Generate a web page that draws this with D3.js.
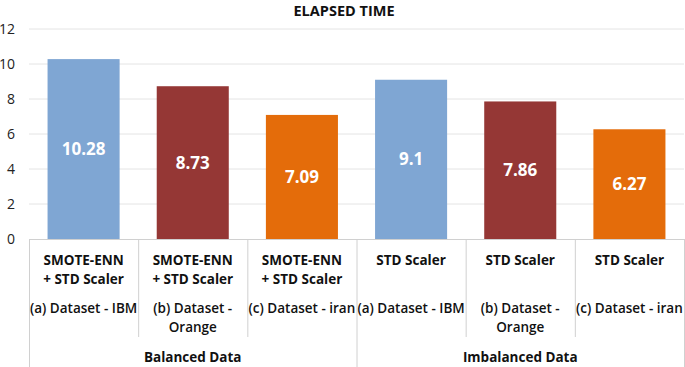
<!DOCTYPE html>
<html>
<head>
<meta charset="utf-8">
<script src="https://cdn.jsdelivr.net/npm/d3@7"></script>
<style>
  body { margin: 0; background: #fff; }
  text { font-family: "Open Sans", sans-serif; }
</style>
</head>
<body>
<div id="chart"></div>
<script>
const width = 685;
const height = 367;

// data
const methods = ["SMOTE-ENN|+ STD Scaler", "SMOTE-ENN|+ STD Scaler", "SMOTE-ENN|+ STD Scaler",
                 "STD Scaler", "STD Scaler", "STD Scaler"];
const datasets = ["(a) Dataset - IBM", "(b) Dataset -|Orange", "(c) Dataset - iran",
                  "(a) Dataset - IBM", "(b) Dataset -|Orange", "(c) Dataset - iran"];
const groups = ["Balanced Data", "Imbalanced Data"];
const values = [10.28, 8.73, 7.09, 9.1, 7.86, 6.27];
const barColors = ["#7fa6d3", "#953735", "#e46c0a", "#7fa6d3", "#953735", "#e46c0a"];
const yTicks = [0, 2, 4, 6, 8, 10, 12];

const plotLeft = 29, plotRight = 684, plotTop = 29, base = 239;
const ids = d3.range(values.length);

const x = d3.scaleBand()
    .domain(ids)
    .range([plotLeft, plotRight])
    .paddingInner(0.34)
    .paddingOuter(0.17);

// category slots without padding, for the separators and labels
const slot = d3.scaleBand().domain(ids).range([plotLeft, plotRight]);

const y = d3.scaleLinear().domain([0, 12]).range([base, plotTop]);

const svg = d3.select('#chart')
    .append('svg')
    .attr('width', width)
    .attr('height', height);

// title
svg.append('text')
    .attr('x', 344)
    .attr('y', 15.5)
    .attr('text-anchor', 'middle')
    .style('font-size', '14.5px')
    .style('font-weight', 'bold')
    .attr('fill', '#111')
    .text('ELAPSED TIME');

// gridlines
svg.append('g')
    .selectAll('line')
    .data(yTicks.filter(d => d > 0))
    .enter()
    .append('line')
    .attr('x1', plotLeft)
    .attr('x2', plotRight)
    .attr('y1', d => y(d))
    .attr('y2', d => y(d))
    .attr('stroke', '#e4e4e4')
    .attr('stroke-width', 1);

// y axis labels
const yAxis = d3.axisLeft(y).tickValues(yTicks).tickSize(0).tickPadding(14);
svg.append('g')
    .attr('transform', `translate(${plotLeft}, 0)`)
    .call(yAxis)
    .call(g => g.select('.domain').remove())
    .call(g => g.selectAll('text')
        .style('font-size', '14px')
        .attr('fill', '#222')
        .style('font-family', '"Open Sans", sans-serif'));

// bars
svg.selectAll('rect.bar')
    .data(ids)
    .enter()
    .append('rect')
    .attr('class', 'bar')
    .attr('x', i => x(i))
    .attr('y', i => y(values[i]))
    .attr('width', x.bandwidth())
    .attr('height', i => base - y(values[i]))
    .attr('fill', i => barColors[i]);

// value labels
svg.selectAll('text.val')
    .data(ids)
    .enter()
    .append('text')
    .attr('class', 'val')
    .attr('x', i => x(i) + x.bandwidth() / 2)
    .attr('y', i => (y(values[i]) + base) / 2)
    .attr('dy', '0.36em')
    .attr('text-anchor', 'middle')
    .attr('fill', '#fff')
    .style('font-size', '17px')
    .style('font-weight', 'bold')
    .text(i => values[i]);

// axis line + separators
const axisColor = '#d0d0d0';
svg.append('line')
    .attr('x1', plotLeft).attr('x2', plotRight)
    .attr('y1', base + 0.5).attr('y2', base + 0.5)
    .attr('stroke', axisColor);

const seps = d3.range(values.length + 1);
svg.append('g')
    .selectAll('line')
    .data(seps)
    .enter()
    .append('line')
    .attr('x1', i => (i < values.length ? slot(i) : plotRight) + 0.5)
    .attr('x2', i => (i < values.length ? slot(i) : plotRight) + 0.5)
    .attr('y1', base)
    .attr('y2', i => (i % 3 === 0 ? height : 337))
    .attr('stroke', axisColor);

// category labels
const labels = svg.append('g');
ids.forEach(i => {
    const cx = slot(i) + slot.bandwidth() / 2;
    const m = labels.append('text')
        .attr('x', cx)
        .attr('text-anchor', 'middle')
        .style('font-size', '13.5px')
        .style('font-weight', 'bold')
        .attr('fill', '#111');
    methods[i].split('|').forEach((t, k) => {
        m.append('tspan').attr('x', cx).attr('y', 265 + k * 19).text(t);
    });
    const d = labels.append('text')
        .attr('x', cx)
        .attr('text-anchor', 'middle')
        .style('font-size', '13.5px')
        .style('font-weight', 600)
        .attr('fill', '#111');
    datasets[i].split('|').forEach((t, k) => {
        d.append('tspan').attr('x', cx).attr('y', 313 + k * 19).text(t);
    });
});

// group labels
groups.forEach((g, k) => {
    svg.append('text')
        .attr('x', (slot(k * 3) + (k === 1 ? plotRight : slot(3))) / 2)
        .attr('y', 362)
        .attr('text-anchor', 'middle')
        .style('font-size', '13.5px')
        .style('font-weight', 'bold')
        .attr('fill', '#111')
        .text(g);
});
</script>
</body>
</html>
